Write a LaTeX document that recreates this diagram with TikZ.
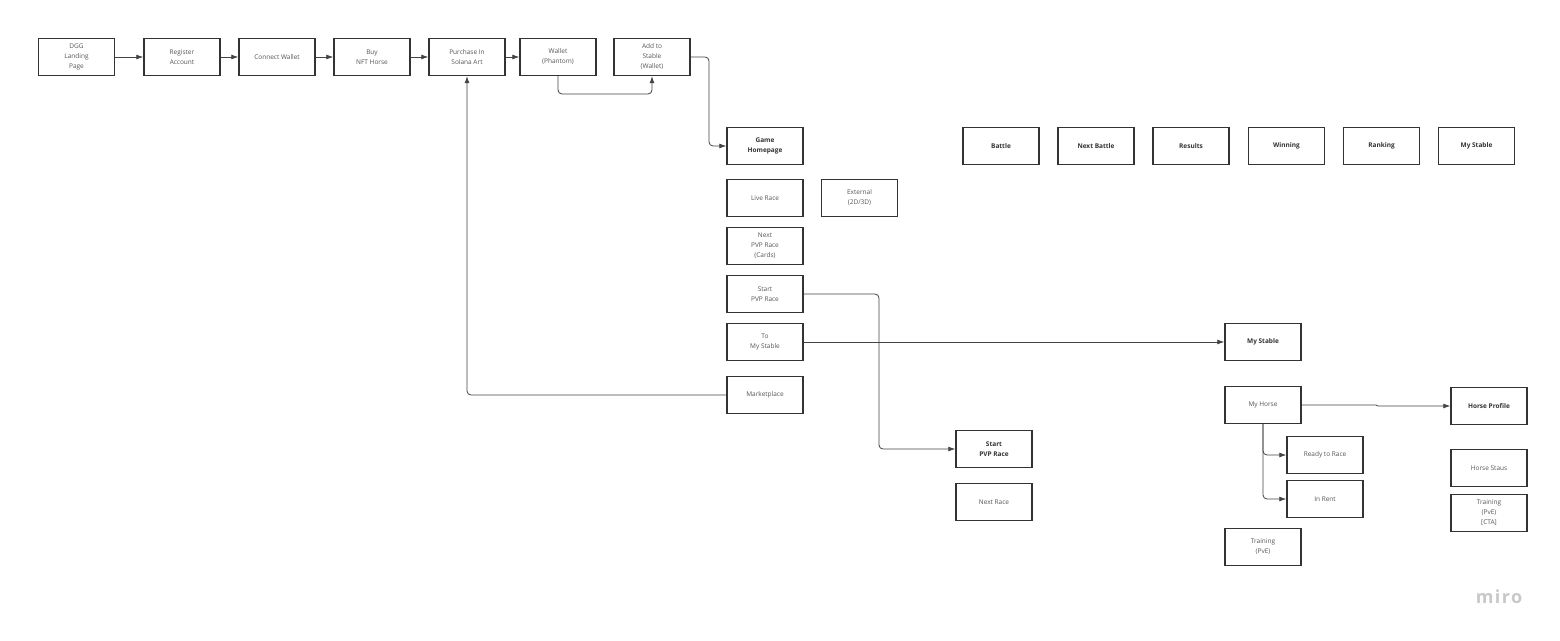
\documentclass[tikz,border=0pt]{standalone}
\usepackage{fontspec}
\setmainfont{Open Sans}
\usetikzlibrary{arrows.meta}
\definecolor{bordc}{HTML}{333333}
\definecolor{txtc}{HTML}{555555}
\definecolor{boldc}{HTML}{333333}
\definecolor{linec}{HTML}{444444}
\definecolor{miroc}{HTML}{C8C8C8}
\begin{document}
\begin{tikzpicture}[x=1pt,y=-1pt,
  box/.style={draw=bordc, line width=1.4pt, fill=white, minimum width=76pt, minimum height=37pt, inner sep=0pt, align=center, text=txtc, font=\fontsize{6.5}{10}\selectfont},
  bbox/.style={box, text=boldc, font=\fontsize{6.5}{10}\selectfont\bfseries},
  conn/.style={draw=linec, line width=0.8pt, rounded corners=4pt, -{Latex[length=7pt,width=5pt]}},
  plain/.style={draw=linec, line width=0.8pt, rounded corners=4pt}]
\useasboundingbox[fill=white] (0,0) rectangle (1560,640);
% top row
\node[box] (dgg) at (76.5,57) {DGG\\Landing\\Page};
\node[box] (reg) at (182,57) {Register\\Account};
\node[box] (conw) at (277,57) {Connect Wallet};
\node[box] (buy) at (372,57) {Buy\\NFT Horse};
\node[box] (purch) at (467,57) {Purchase In\\Solana Art};
\node[box] (wal) at (558,57) {Wallet\\(Phantom)};
\node[box] (add) at (652,57) {Add to\\Stable\\(Wallet)};
% game column
\node[bbox] (game) at (765,146) {Game\\Homepage};
\node[box] (live) at (765,198) {Live Race};
\node[box] (ext) at (859.5,198) {External\\(2D/3D)};
\node[box] (nextpvp) at (765,246) {Next\\PVP Race\\(Cards)};
\node[box] (startpvp) at (765,294) {Start\\PVP Race};
\node[box] (tostab) at (765,342) {To\\My Stable};
\node[box] (market) at (765,395) {Marketplace};
% start pvp race
\node[bbox] (startb) at (994,449) {Start\\PVP Race};
\node[box] (nextrace) at (994,502) {Next Race};
% top right row
\node[bbox] (battle) at (1001,146) {Battle};
\node[bbox] (nbattle) at (1096,146) {Next Battle};
\node[bbox] (results) at (1191,146) {Results};
\node[bbox] (winning) at (1286.5,146) {Winning};
\node[bbox] (ranking) at (1381.5,146) {Ranking};
\node[bbox] (mystab2) at (1476.5,146) {My Stable};
% my stable
\node[bbox] (mystab) at (1263,342) {My Stable};
\node[box] (myhorse) at (1263,405) {My Horse};
\node[bbox] (profile) at (1489,406) {Horse Profile};
\node[box] (ready) at (1325,455) {Ready to Race};
\node[box] (rent) at (1325,499) {In Rent};
\node[box] (train) at (1263,547) {Training\\(PvE)};
\node[box] (hstatus) at (1489,468) {Horse Staus};
\node[box] (traincta) at (1489,513) {Training\\(PvE)\\{[CTA]}};
% miro mark
\node[text=miroc, font=\fontsize{18}{18}\selectfont\bfseries\addfontfeatures{LetterSpace=8}, inner sep=0pt] (miro) at (1499,597) {miro};
% connectors
\draw[conn] (dgg) -- (reg);
\draw[conn] (reg) -- (conw);
\draw[conn] (conw) -- (buy);
\draw[conn] (buy) -- (purch);
\draw[conn] (purch) -- (wal);
\coordinate (c1) at (558,94);
\draw[conn] (wal.south) -- (c1) -| (add.south);
\coordinate (c2) at (709,57);
\draw[conn] (add.east) -- (c2) |- (game.west);
\coordinate (c3) at (879,294);
\draw[conn] (startpvp.east) -- (c3) |- (startb.west);
\draw[conn] (tostab.east) -- (mystab.west);
\draw[conn] (market.west) -| (purch.south);
\coordinate (c4) at (1376,405);
\coordinate (c5) at (1378,406);
\draw[conn, rounded corners=0pt] (myhorse.east) -- (c4) -- (c5) -- (profile.west);
\draw[conn] (myhorse.south) |- (ready.west);
\draw[conn] (myhorse.south) |- (rent.west);
\end{tikzpicture}
\end{document}
